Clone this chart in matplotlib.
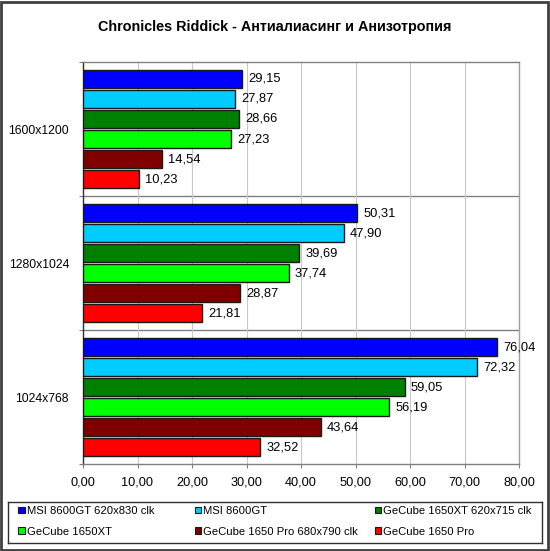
import matplotlib

matplotlib.use("Agg")
import matplotlib.pyplot as plt
import numpy as np
from matplotlib.legend import Legend
from matplotlib.patches import Patch, Rectangle
from matplotlib.ticker import FuncFormatter

TITLE = "Chronicles Riddick - Антиалиасинг и Анизотропия"
RESOLUTIONS = ["1600x1200", "1280x1024", "1024x768"]  # top to bottom
SERIES = [
    "MSI 8600GT 620x830 clk",
    "MSI 8600GT",
    "GeCube 1650XT 620x715 clk",
    "GeCube 1650XT",
    "GeCube 1650 Pro 680x790 clk",
    "GeCube 1650 Pro",
]
COLORS = ["#0000FF", "#00CCFF", "#008000", "#00FF00", "#800000", "#FF0000"]

MSI_OC = [29.15, 50.31, 76.04]
MSI = [27.87, 47.90, 72.32]
XT_OC = [28.66, 39.69, 59.05]
XT = [27.23, 37.74, 56.19]
PRO_OC = [14.54, 28.87, 43.64]
PRO = [10.23, 21.81, 32.52]
VALUES = [MSI_OC, MSI, XT_OC, XT, PRO_OC, PRO]

X_TICKS = [0, 10, 20, 30, 40, 50, 60, 70, 80]

FONT = "Liberation Sans"


def comma(v, _pos=None):
    return f"{v:.2f}".replace(".", ",")


def main():
    plt.rcParams["font.family"] = FONT
    fig = plt.figure(figsize=(5.5, 5.51), dpi=100)
    fig.patch.set_facecolor("white")

    ax = fig.add_axes([83 / 550, 1 - 464 / 551, 436 / 550, 402 / 551])
    centers = np.arange(len(RESOLUTIONS))[::-1].astype(float)
    pitch = 20 / 134
    height = 18 / 134
    for i, (name, vals, color) in enumerate(zip(SERIES, VALUES, COLORS)):
        y = centers + (2.5 - i) * pitch
        bars = ax.barh(y, vals, height=height, color=color,
                       edgecolor="#1a1a1a", linewidth=1.0, label=name, zorder=3)
        ax.bar_label(bars, labels=[comma(v) for v in vals], padding=4.3,
                     fontsize=9.3, color="black")

    ax.set_xlim(0, 80)
    ax.set_ylim(-0.5, 2.5)
    ax.set_xticks(X_TICKS)
    ax.xaxis.set_major_formatter(FuncFormatter(comma))
    ax.tick_params(axis="x", direction="out", length=3, color="#808080",
                   labelsize=9.2, pad=6)
    ax.grid(axis="x", color="#C8C8C8", linewidth=0.8, zorder=0)

    ax.set_yticks([-0.5, 0.5, 1.5, 2.5])
    ax.set_yticklabels([])
    ax.tick_params(axis="y", which="major", direction="out", length=3, color="#808080")
    ax.set_yticks(centers, minor=True)
    ax.set_yticklabels(RESOLUTIONS, minor=True)
    ax.tick_params(axis="y", which="minor", length=0, labelsize=8.8, pad=10)
    for b in (0.5, 1.5):
        ax.axhline(b, color="#808080", linewidth=1.0, zorder=1)

    ax.spines["left"].set_color("#303030")
    ax.spines["bottom"].set_color("#808080")
    ax.spines["top"].set_color("#808080")
    ax.spines["right"].set_color("#A0A0A0")
    for s in ax.spines.values():
        s.set_linewidth(1.0)

    fig.text(0.5, 1 - 27.5 / 551, TITLE, ha="center", va="center",
             fontsize=10.4, fontweight="bold")

    # legend box
    lax = fig.add_axes([8 / 550, 1 - 543 / 551, 534 / 550, 41 / 551])
    lax.set_xticks([])
    lax.set_yticks([])
    for s in lax.spines.values():
        s.set_color("#303030")
        s.set_linewidth(1.0)
    handles = [Patch(facecolor=c, edgecolor="#1a1a1a", linewidth=0.8) for c in COLORS]
    col_x = [0.012, 0.342, 0.680]
    for col in range(3):
        idx = [col, col + 3]
        leg = Legend(lax, [handles[k] for k in idx], [SERIES[k] for k in idx],
                     loc="upper left", bbox_to_anchor=(col_x[col], 1.0),
                     frameon=False, fontsize=8.1, handlelength=0.55,
                     handleheight=0.55, handletextpad=0.2, labelspacing=0.95,
                     borderaxespad=0.0, borderpad=0.35)
        lax.add_artist(leg)

    fig.patches.append(Rectangle((0.001, 0.001), 0.996, 0.996, transform=fig.transFigure,
                                 fill=False, edgecolor="#404040", linewidth=2.0))

    fig.savefig("out.png", dpi=100)
    plt.close(fig)


if __name__ == "__main__":
    main()
